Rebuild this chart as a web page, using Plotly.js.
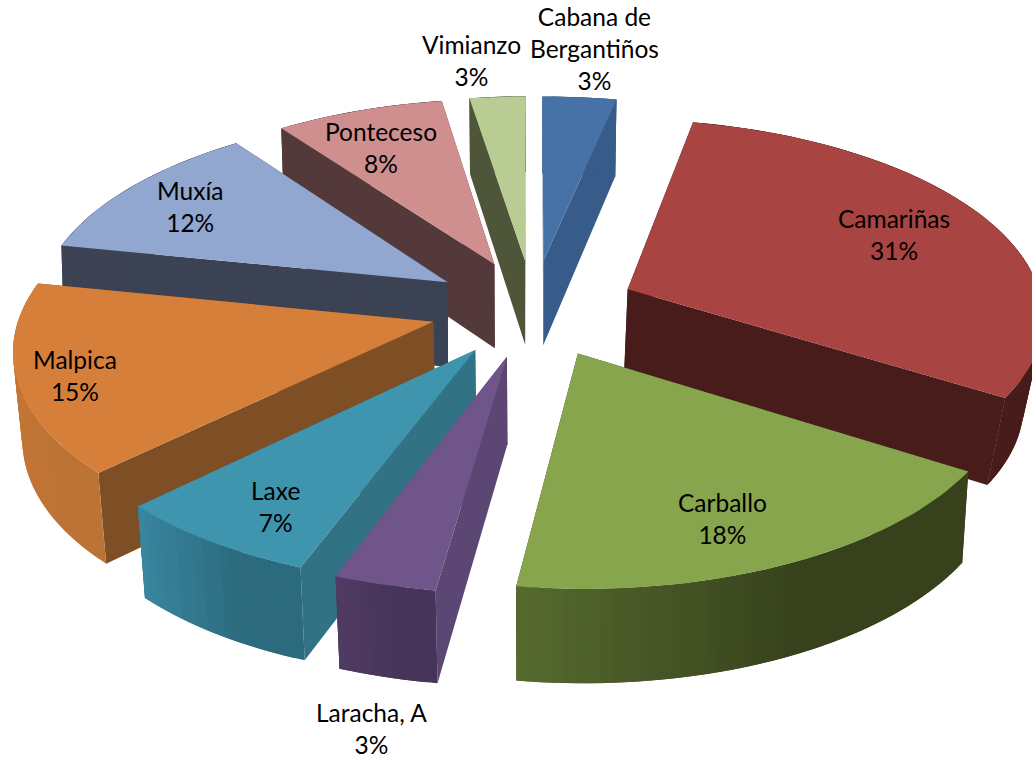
<!DOCTYPE html>
<html>
<head>
<meta charset="utf-8">
<script src="https://cdn.plot.ly/plotly-3.0.1.min.js"></script>
<style>html,body{margin:0;padding:0;background:#fff;overflow:hidden}#chart{width:1032px;height:760px}</style>
</head>
<body>
<div id="chart"></div>
<script>
// Data, clockwise from 12 o'clock
const municipalities = ["Cabana de<br>Bergantiños","Camariñas","Carballo","Laracha, A","Laxe","Malpica","Muxía","Ponteceso","Vimianzo"];
const sharePercent = [3.28,30.7,18.25,3.45,7.05,15.45,11.75,7.55,2.52];

// Styles
const topColors  = ["#4672a8","#a84442","#87a54d","#6f5589","#3f94ae","#d67f3b","#91a7d0","#cf8f8e","#b9cc94"];
const sideColors = ["#375c8a","#471c1a","#3a4420","#5c4674","#317284","#7e4f24","#3b4254","#533939","#4e5539"];
const rimLeft    = ["#375c8a","#471c1a","#566a2f","#503b64","#38869f","#c27534","#3b4254","#533939","#4e5539"];
const rimRight   = ["#375c8a","#471c1a","#37421c","#47345a","#2c6a7d","#bc7335","#3b4254","#533939","#4e5539"];
const lowerScale = [0.985,0.962,0.986,0.98,0.982,0.982,0.995,0.99,0.99];
const drawOrder  = [0,8,7,1,6,5,2,4,3];

// Label layout, pixel centres
const labelX = [594,471,381,190,75,275,371,722,894];
const labelY = [48,60,147.5,206,375,506,728,518,234.5];
const labelFor = [0,8,7,6,5,4,3,2,1];

// Camera / extrusion
const cx=533, cy=308, A=416, Aleft=412, B=195, b=0.121, pull=0.25;
const baseDepth=86, depthSlope=10;

function hex(c){return [1,3,5].map(i=>parseInt(c.substr(i,2),16));}
function mix(a,b,t){const p=hex(a),q=hex(b);return 'rgb('+p.map((v,i)=>Math.round(v+(q[i]-v)*t)).join(',')+')';}

const total = sharePercent.reduce((s,v)=>s+v,0);
let acc=0;
const slices = sharePercent.map(v=>{const a0=acc/total*2*Math.PI;acc+=v;return {a0,a1:acc/total*2*Math.PI};});

function upper(u,v){const s=1/(1-b*v);return [cx+(u<0?Aleft:A)*u*s, cy+B*v*s];}
function lower(u,v,k){const p=upper(u,v);return [cx+(p[0]-cx)*k, cy+(p[1]-cy)*k+baseDepth+depthSlope*v];}

const traces=[];
function poly(pts,color){
  traces.push({type:'scatter',mode:'lines',x:pts.concat([pts[0]]).map(p=>p[0]),y:pts.concat([pts[0]]).map(p=>p[1]),
    fill:'toself',fillcolor:color,line:{color:color,width:0},hoverinfo:'skip',showlegend:false});
}

drawOrder.forEach(i=>{
  const s=slices[i], mid=(s.a0+s.a1)/2, k=lowerScale[i];
  const ax=pull*Math.sin(mid), av=-pull*Math.cos(mid);
  const n=Math.max(6,Math.round((s.a1-s.a0)/0.025));
  const rim=[];
  for(let j=0;j<=n;j++){const t=s.a0+(s.a1-s.a0)*j/n;rim.push([ax+Math.sin(t),av-Math.cos(t)]);}
  const quad=(p,q)=>[upper(p[0],p[1]),upper(q[0],q[1]),lower(q[0],q[1],k),lower(p[0],p[1],k)];
  const apex=[ax,av];
  // radial walls
  poly(quad(apex,rim[0]),sideColors[i]);
  poly(quad(apex,rim[n]),sideColors[i]);
  // rim wall with horizontal gradient; each band overlaps the next to hide seams
  const xs=rim.map(p=>upper(p[0],p[1])[0]);
  const xMin=Math.min(...xs), xMax=Math.max(...xs);
  for(let j=0;j<n;j++){
    const t=xMax>xMin?((xs[j]+xs[j+1])/2-xMin)/(xMax-xMin):0;
    const band=[upper(rim[j][0],rim[j][1])];
    const end=Math.min(n,j+2);
    for(let q=j+1;q<=end;q++)band.push(upper(rim[q][0],rim[q][1]));
    for(let q=end;q>=j;q--)band.push(lower(rim[q][0],rim[q][1],k));
    poly(band,mix(rimLeft[i],rimRight[i],Math.min(1,t*1.6)));
  }
  // top face
  poly([upper(apex[0],apex[1])].concat(rim.map(p=>upper(p[0],p[1]))),topColors[i]);
});

const annotations=labelFor.map((idx,j)=>({
  x:labelX[j],y:labelY[j],xref:'x',yref:'y',showarrow:false,align:'center',xanchor:'center',yanchor:'middle',
  text:municipalities[idx]+'<br>'+Math.round(sharePercent[idx])+'%',
  font:{family:'Lato, Carlito, sans-serif',size:24.5,color:'#000'}
}));

Plotly.newPlot('chart',traces,{
  width:1032,height:760,margin:{l:0,r:0,t:0,b:0,pad:0},
  paper_bgcolor:'#fff',plot_bgcolor:'#fff',showlegend:false,
  xaxis:{visible:false,range:[0,1032],fixedrange:true},
  yaxis:{visible:false,range:[760,0],fixedrange:true},
  annotations
},{displayModeBar:false,staticPlot:true});
</script>
</body>
</html>
